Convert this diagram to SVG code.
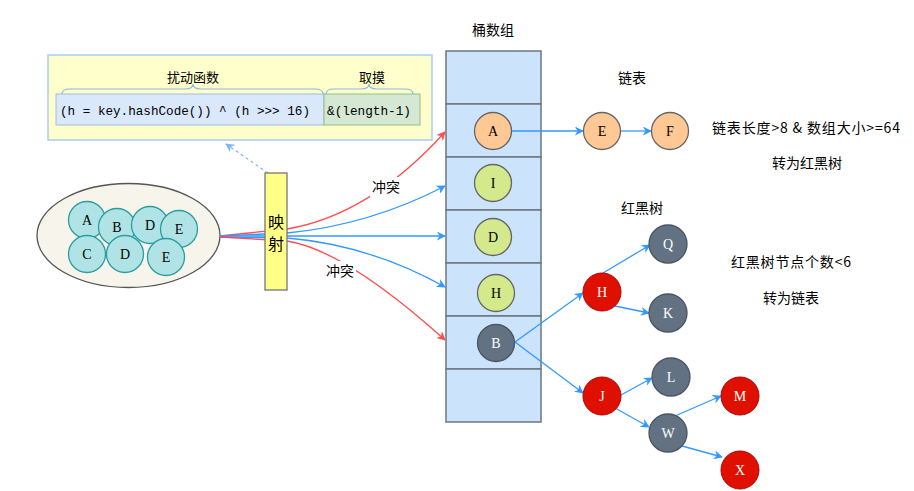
<svg xmlns="http://www.w3.org/2000/svg" width="914" height="491" viewBox="0 0 914 491">
<style>
.cjk{font-family:"Noto Sans CJK SC","Noto Sans CJK JP",sans-serif;fill:#000}
.lt{font-family:"Liberation Serif",serif;font-size:14px;text-anchor:middle;dominant-baseline:central}
.mono{font-family:"Liberation Mono",monospace;font-size:13px;fill:#000}
.teal{fill:#b0e3e6;stroke:#2a9d9d;stroke-width:1.3}
.org{fill:#ffc895;stroke:#666;stroke-width:1.3}
.lime{fill:#d3e98b;stroke:#666;stroke-width:1.3}
.slate{fill:#627282;stroke:#4a5562;stroke-width:1.3}
.red{fill:#e01000;stroke:#b20000;stroke-width:1}
.bl{stroke:#3399ff;stroke-width:1.3;fill:none;marker-end:url(#ab)}
.rd{stroke:#ff4d4d;stroke-width:1.3;fill:none;marker-end:url(#ar)}
.cell{fill:#cce4fb;stroke:#6b7682;stroke-width:1.5}
</style>
<defs>
<marker id="ab" viewBox="0 0 10 10" refX="9" refY="5" markerWidth="9" markerHeight="9" markerUnits="userSpaceOnUse" orient="auto"><path d="M0,0 L10,5 L0,10 L3,5 Z" fill="#3399ff"/></marker>
<marker id="ar" viewBox="0 0 10 10" refX="9" refY="5" markerWidth="9" markerHeight="9" markerUnits="userSpaceOnUse" orient="auto"><path d="M0,0 L10,5 L0,10 L3,5 Z" fill="#ff4d4d"/></marker>
<marker id="abd" viewBox="0 0 10 10" refX="9" refY="5" markerWidth="9" markerHeight="9" markerUnits="userSpaceOnUse" orient="auto"><path d="M0,0 L10,5 L0,10 L3,5 Z" fill="#7fb6f0"/></marker>
</defs>
<rect width="914" height="491" fill="#fff"/>

<g id="formula">
<rect x="48" y="55" width="384" height="85" fill="#ffffcc" stroke="#a9cdf2" stroke-width="1.5"/>
<rect x="56" y="94" width="268" height="31" fill="#dae8fc" stroke="#9fbce0"/>
<rect x="324" y="94" width="96" height="31" fill="#d5e8d4" stroke="#8fbf86"/>
<path d="M62,94 Q62,89 70,89 L185,89 Q193,89 193,84 Q193,89 201,89 L315,89 Q323,89 323,94" fill="none" stroke="#8ab8e8" stroke-width="1.2"/>
<path d="M326,94 Q326,89 334,89 L361,89 Q369,89 369,84 Q369,89 377,89 L405,89 Q413,89 413,94" fill="none" stroke="#8ab8e8" stroke-width="1.2"/>
<text class="cjk" x="193" y="82" font-size="13" text-anchor="middle">扰动函数</text>
<text class="cjk" x="372" y="82" font-size="13" text-anchor="middle">取摸</text>
<text class="mono" x="60" y="115" textLength="250" lengthAdjust="spacingAndGlyphs">(h = key.hashCode()) ^ (h &gt;&gt;&gt; 16)</text>
<text class="mono" x="327" y="115" textLength="84" lengthAdjust="spacingAndGlyphs">&amp;(length-1)</text>
</g>

<g id="keys">
<ellipse cx="128.5" cy="235.5" rx="91.5" ry="52" fill="#f7f4ec" stroke="#555" stroke-width="1.3"/>
<circle class="teal" cx="87" cy="220" r="18.5"/>
<circle class="teal" cx="117" cy="227" r="18.5"/>
<circle class="teal" cx="150" cy="225" r="18.5"/>
<circle class="teal" cx="179" cy="229" r="18.5"/>
<circle class="teal" cx="87" cy="254" r="18.5"/>
<circle class="teal" cx="125" cy="254" r="18.5"/>
<circle class="teal" cx="166" cy="257" r="18.5"/>
<text class="lt" x="87" y="220">A</text>
<text class="lt" x="117" y="227">B</text>
<text class="lt" x="150" y="225">D</text>
<text class="lt" x="179" y="229">E</text>
<text class="lt" x="87" y="254">C</text>
<text class="lt" x="125" y="254">D</text>
<text class="lt" x="166" y="257">E</text>
</g>

<g id="bucket">
<text class="cjk" x="493" y="35" font-size="14" text-anchor="middle">桶数组</text>
<rect class="cell" x="446" y="51" width="95" height="53"/>
<rect class="cell" x="446" y="104" width="95" height="53"/>
<rect class="cell" x="446" y="157" width="95" height="53"/>
<rect class="cell" x="446" y="210" width="95" height="53"/>
<rect class="cell" x="446" y="263" width="95" height="53"/>
<rect class="cell" x="446" y="316" width="95" height="53"/>
<rect class="cell" x="446" y="369" width="95" height="53"/>
</g>

<g id="connectors">
<path d="M268,173 L226,144" fill="none" stroke="#7fb6f0" stroke-width="1.2" stroke-dasharray="3,3" marker-end="url(#abd)"/>
<path class="rd" d="M220,236 L287,229 Q370,215 445,132"/>
<path class="bl" d="M220,236 L287,233 Q370,225 445,186"/>
<path class="bl" d="M220,236 L445,236"/>
<path class="bl" d="M220,237 L287,238 Q370,245 445,287"/>
<path class="rd" d="M220,237 L287,241 Q345,250 445,340"/>
<path class="bl" d="M511,131 L583,131"/>
<path class="bl" d="M621,131 L651,131"/>
<path class="bl" d="M515,342 L583,293"/>
<path class="bl" d="M515,342 L583,393"/>
<path class="bl" d="M603,273 L650,245"/>
<path class="bl" d="M615,306 L649,313"/>
<path class="bl" d="M621,395 L652,378"/>
<path class="bl" d="M615,408 L649,427"/>
<path class="bl" d="M675,416 L721,396"/>
<path class="bl" d="M682,446 L722,457"/>
<rect x="370" y="177" width="32" height="20" fill="#fff"/>
<text class="cjk" x="386" y="192" font-size="14" text-anchor="middle">冲突</text>
<rect x="324" y="261" width="32" height="20" fill="#fff"/>
<text class="cjk" x="340" y="276" font-size="14" text-anchor="middle">冲突</text>
</g>

<g id="map">
<rect x="265" y="173" width="22" height="117" fill="#ffff88" stroke="#777" stroke-width="1.3"/>
<text class="cjk" x="276" y="228" font-size="16" text-anchor="middle">映</text>
<text class="cjk" x="276" y="250" font-size="16" text-anchor="middle">射</text>
</g>

<g id="node-A"><circle class="org" cx="493" cy="131" r="18.5"/><text class="lt" x="493" y="131">A</text></g>
<g id="node-I"><circle class="lime" cx="493" cy="183" r="18.5"/><text class="lt" x="493" y="183">I</text></g>
<g id="node-D"><circle class="lime" cx="493" cy="237" r="18.5"/><text class="lt" x="493" y="237">D</text></g>
<g id="node-H0"><circle class="lime" cx="496" cy="293" r="18.5"/><text class="lt" x="496" y="293">H</text></g>
<g id="node-B"><circle class="slate" cx="496" cy="343" r="18.5"/><text class="lt" x="496" y="343" fill="#fff">B</text></g>

<g id="list">
<text class="cjk" x="632" y="83" font-size="14" text-anchor="middle">链表</text>
<g id="node-E"><circle class="org" cx="602" cy="131" r="18.5"/><text class="lt" x="602" y="131">E</text></g>
<g id="node-F"><circle class="org" cx="670" cy="131" r="18.5"/><text class="lt" x="670" y="131">F</text></g>
<text class="cjk" x="712" y="133" font-size="14" textLength="188" lengthAdjust="spacing">链表长度&gt;8 &amp; 数组大小&gt;=64</text>
<text class="cjk" x="807" y="168" font-size="14" text-anchor="middle">转为红黑树</text>
</g>

<g id="tree">
<text class="cjk" x="642" y="213" font-size="14" text-anchor="middle">红黑树</text>
<text class="cjk" x="731" y="267" font-size="14" textLength="120" lengthAdjust="spacing">红黑树节点个数&lt;6</text>
<text class="cjk" x="791" y="303" font-size="14" text-anchor="middle">转为链表</text>
<g id="node-Q"><circle class="slate" cx="668" cy="244" r="19"/><text class="lt" x="668" y="244" fill="#fff">Q</text></g>
<g id="node-H"><circle class="red" cx="602" cy="292" r="19"/><text class="lt" x="602" y="292" fill="#fff">H</text></g>
<g id="node-K"><circle class="slate" cx="668" cy="313" r="19"/><text class="lt" x="668" y="313" fill="#fff">K</text></g>
<g id="node-L"><circle class="slate" cx="671" cy="377" r="19"/><text class="lt" x="671" y="377" fill="#fff">L</text></g>
<g id="node-J"><circle class="red" cx="602" cy="396" r="19"/><text class="lt" x="602" y="396" fill="#fff">J</text></g>
<g id="node-M"><circle class="red" cx="740" cy="396" r="19"/><text class="lt" x="740" y="396" fill="#fff">M</text></g>
<g id="node-W"><circle class="slate" cx="668" cy="433" r="19"/><text class="lt" x="668" y="433" fill="#fff">W</text></g>
<g id="node-X"><circle class="red" cx="740" cy="470" r="19"/><text class="lt" x="740" y="470" fill="#fff">X</text></g>
</g>
</svg>
